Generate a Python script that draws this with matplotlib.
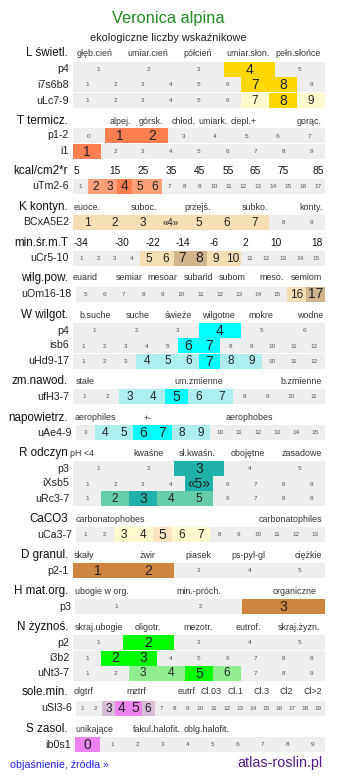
import matplotlib.pyplot as plt

plt.rcParams['font.family'] = ['Liberation Sans', 'DejaVu Sans']

# ---- data ----
title = "Veronica alpina"
subtitle = "ekologiczne liczby wskaźnikowe"

# L światło
L_head = "L świetl."
L_cats = ["głęb.cień", "umiar.cień", "półcień", "umiar.słon.", "pełn.słońce"]
L_p4 = dict(label="p4", cells=[1, 2, 3, 4, 5], main=[4], sec=[])
L_i = dict(label="i7s6b8", cells=list(range(1, 10)), main=[7, 8], sec=[])
L_u = dict(label="uLc7-9", cells=list(range(1, 10)), main=[8], sec=[7, 9])

# T temperatura
T_head = "T termicz."
T_cats = ["alpej.", "górsk.", "chłod.", "umiark.", "ciepl.+", "gorąc."]
T_p = dict(label="p1-2", cells=list(range(0, 8)), main=[1, 2], sec=[])
T_i = dict(label="i1", cells=list(range(1, 10)), main=[1], sec=[])
kcal_head = "kcal/cm2*r"
kcal_ticks = ["5", "15", "25", "35", "45", "55", "65", "75", "85"]
T_u = dict(label="uTm2-6", cells=list(range(1, 18)), main=[4], sec=[2, 3, 5, 6])

# K kontynentalizm
K_head = "K kontyn."
K_cats = ["euoce.", "suboc.", "przejś.", "subko.", "konty."]
K_b = dict(label="BCxA5E2", cells=list(range(1, 10)), main=[], sec=[1, 2, 3, 4, 5, 6, 7], mark=4)
minT_head = "min.śr.m.T"
minT_ticks = ["-34", "-30", "-22", "-14", "-6", "2", "10", "18"]
K_u = dict(label="uCr5-10", cells=list(range(1, 16)), main=[7, 8], sec=[5, 6, 9, 10])
wilg_head = "wilg.pow."
wilg_cats = ["euarid", "semiar", "mesoar", "subarid", "subom", "meso.", "semiom"]
K_o = dict(label="uOm16-18", cells=list(range(5, 18)), main=[17], sec=[16])

# W wilgotność
W_head = "W wilgot."
W_cats = ["b.suche", "suche", "świeże", "wilgotne", "mokre", "wodne"]
W_p = dict(label="p4", cells=list(range(1, 7)), main=[4], sec=[])
W_i = dict(label="isb6", cells=list(range(1, 13)), main=[6, 7], sec=[])
W_u = dict(label="uHd9-17", cells=list(range(1, 13)), main=[7], sec=[4, 5, 6, 8, 9])
zm_head = "zm.nawod."
zm_cats = ["stałe", "um.zmienne", "b.zmienne"]
W_f = dict(label="ufH3-7", cells=list(range(1, 12)), main=[5], sec=[3, 4, 6, 7])
nap_head = "napowietrz."
nap_cats = ["aerophiles", "+-", "aerophobes"]
W_a = dict(label="uAe4-9", cells=list(range(3, 16)), main=[6, 7], sec=[4, 5, 8, 9])

# R odczyn
R_head = "R odczyn"
R_cats = ["pH <4", "kwaśne", "sł.kwaśn.", "obojętne", "zasadowe"]
R_p = dict(label="p3", cells=[1, 2, 3, 4, 5], main=[3], sec=[])
R_i = dict(label="iXsb5", cells=list(range(1, 10)), main=[5], sec=[], mark=5)
R_u = dict(label="uRc3-7", cells=list(range(1, 10)), main=[3], sec=[2, 4, 5])
Ca_head = "CaCO3"
Ca_cats = ["carbonatophobes", "carbonatophiles"]
R_c = dict(label="uCa3-7", cells=list(range(1, 14)), main=[5], sec=[3, 4, 6, 7])

# D granulacja
D_head = "D granul."
D_cats = ["skały", "żwir", "piasek", "ps-pyl-gl", "ciężkie"]
D_p = dict(label="p2-1", cells=[1, 2, 3, 4, 5], main=[1, 2], sec=[])

# H materia organiczna
H_head = "H mat.org."
H_cats = ["ubogie w org.", "min.-próch.", "organiczne"]
H_p = dict(label="p3", cells=[1, 2, 3], main=[3], sec=[])

# N żyzność
N_head = "N żyznoś."
N_cats = ["skraj.ubogie", "oligotr.", "mezotr.", "eutrof.", "skraj.żyzn."]
N_p = dict(label="p2", cells=[1, 2, 3, 4, 5], main=[2], sec=[])
N_i = dict(label="i3b2", cells=list(range(1, 10)), main=[2, 3], sec=[])
N_u = dict(label="uNt3-7", cells=list(range(1, 10)), main=[5], sec=[3, 4, 6])
sol_head = "sole.min."
sol_cats = ["olgtrf", "mztrf", "eutrf", "Cl.03", "Cl.1", "Cl.3", "Cl2", "Cl>2"]
N_s = dict(label="uSl3-6", cells=list(range(1, 20)), main=[4, 5], sec=[3, 6])

# S zasolenie
S_head = "S zasol."
S_cats = ["unikające", "fakul.halofit.", "oblg.halofit."]
S_i = dict(label="ib0s1", cells=list(range(0, 10)), main=[0], sec=[])

# ---- layout (pixels) ----
GREY = "#eeeeee"
CAT = 6.4
HEAD_X = 68
# header text, y, category labels, their x centres, size, colour
headers = [
    (L_head, 53, L_cats, [95, 148, 198, 248, 298], CAT, "#333333"),
    (T_head, 121, T_cats, [120, 151, 184, 213, 244, 309], CAT, "#333333"),
    (kcal_head, 171, kcal_ticks, [76, 115, 143, 171, 199, 228, 255, 283, 318], 7.3, "#111111"),
    (K_head, 207, K_cats, [87, 144, 198, 255, 311], CAT, "#333333"),
    (minT_head, 243, minT_ticks, [81, 122, 153, 183, 214, 245, 276, 317], 7.3, "#111111"),
    (wilg_head, 278, wilg_cats, [85, 129, 162, 198, 232, 272, 306], CAT, "#333333"),
    (W_head, 315, W_cats, [95, 138, 178, 218, 261, 310], CAT, "#333333"),
    (zm_head, 381, zm_cats, [85, 199, 301], CAT, "#333333"),
    (nap_head, 418, nap_cats, [95, 148, 249], CAT, "#333333"),
    (R_head, 453, R_cats, [82, 149, 197, 248, 302], CAT, "#333333"),
    (Ca_head, 519, Ca_cats, [110, 290], CAT, "#333333"),
    (D_head, 555, D_cats, [84, 148, 198, 248, 308], CAT, "#333333"),
    (H_head, 591, H_cats, [102, 199, 295], CAT, "#333333"),
    (N_head, 627, N_cats, [99, 148, 198, 248, 299], CAT, "#333333"),
    (sol_head, 692, sol_cats, [84, 136, 187, 211, 236, 262, 286, 313], CAT, "#333333"),
    (S_head, 729, S_cats, [94, 157, 207], CAT, "#333333"),
]

# row, y-centre, x start, main colour, secondary colour
rows = [
    (L_p4, 69, 73, "#ffd700", "#fffacd"),
    (L_i, 84.5, 73, "#ffd700", "#fffacd"),
    (L_u, 100.5, 73, "#ffd700", "#fffacd"),
    (T_p, 135.5, 73, "#ff7f50", "#ffa07a"),
    (T_i, 151, 73, "#ff7f50", "#ffa07a"),
    (T_u, 186, 73, "#ff7f50", "#ffa07a"),
    (K_b, 222, 73, "#d2b48c", "#f5deb3"),
    (K_u, 258, 73, "#d2b48c", "#f5deb3"),
    (K_o, 294, 76, "#d2b48c", "#f5deb3"),
    (W_p, 330.5, 73, "#00ffff", "#afeeee"),
    (W_i, 345.5, 73, "#00ffff", "#afeeee"),
    (W_u, 361, 73, "#00ffff", "#afeeee"),
    (W_f, 396.5, 73, "#00ffff", "#afeeee"),
    (W_a, 432.5, 76, "#00ffff", "#afeeee"),
    (R_p, 468.5, 73, "#20b2aa", "#66cdaa"),
    (R_i, 483.5, 73, "#20b2aa", "#66cdaa"),
    (R_u, 498.5, 73, "#20b2aa", "#66cdaa"),
    (R_c, 534.5, 76, "#ffe4c4", "#fffacd"),
    (D_p, 570.5, 73, "#cd853f", "#deb887"),
    (H_p, 606.5, 75, "#cd853f", "#deb887"),
    (N_p, 642.5, 73, "#00ff00", "#90ee90"),
    (N_i, 658, 73, "#00ff00", "#90ee90"),
    (N_u, 673, 73, "#00ff00", "#90ee90"),
    (N_s, 708, 76, "#ee82ee", "#d8bfd8"),
    (S_i, 744.5, 75, "#ee82ee", "#d8bfd8"),
]
X_END = 325
ROW_H = 15

fig = plt.figure(figsize=(3.37, 7.81), dpi=100)
ax = fig.add_axes([0, 0, 1, 1])
ax.set_xlim(0, 337)
ax.set_ylim(781, 0)
ax.axis('off')

ax.text(168.5, 19, title, ha='center', va='center', fontsize=11.8, color='#228b22')
ax.text(168.5, 38, subtitle, ha='center', va='center', fontsize=7.8, color='#222222')

for head, y, cats, xs, fs, col in headers:
    ax.text(HEAD_X, y, head, ha='right', va='center', fontsize=8.4, color='#111111')
    for c, x in zip(cats, xs):
        ax.text(x, y, c, ha='center', va='center', fontsize=fs, color=col)

for row, y, x0, c_main, c_sec in rows:
    cells = row["cells"]
    w = (X_END - x0) / len(cells)
    lefts = [x0 + i * w for i in range(len(cells))]
    colors = []
    for v in cells:
        if v in row["main"]:
            colors.append(c_main)
        elif v in row["sec"]:
            colors.append(c_sec)
        else:
            colors.append(GREY)
    ax.barh([y] * len(cells), [w] * len(cells), left=lefts, height=ROW_H,
            color=colors, linewidth=0)
    ax.text(x0 - 4, y, row["label"], ha='right', va='center', fontsize=7.7, color='#222222')
    for v, lx in zip(cells, lefts):
        txt = str(v)
        if row.get("mark") == v:
            txt = "«%d»" % v
        if v in row["main"]:
            fs = 10
        elif v in row["sec"]:
            fs = 8.5
        else:
            fs = 4.6
        if row.get("mark") == v and v not in row["main"]:
            fs = 7
        ax.text(lx + w / 2, y + 0.5, txt, ha='center', va='center', fontsize=fs,
                color='#222222' if fs > 6 else '#555555')

ax.text(10, 765, "objaśnienie, źródła »", ha='left', va='center', fontsize=7.7, color='#2222ee')
ax.text(322, 763, "atlas-roslin.pl", ha='right', va='center', fontsize=10.4, color='#551a8b')

fig.savefig("out.png", dpi=100)
